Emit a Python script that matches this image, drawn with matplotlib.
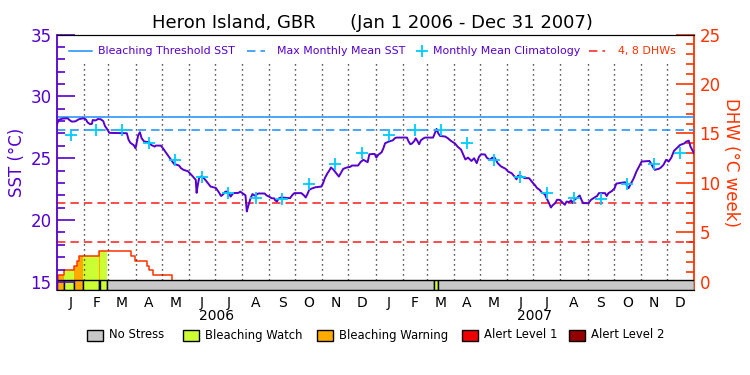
import numpy as np
import pandas as pd
import matplotlib
matplotlib.use('Agg')
from matplotlib import pyplot as plt
from matplotlib import patches

plt.rcParams['font.family'] = ['DejaVu Sans']

# ---- data (day 0 = 1 Jan 2006) ----
sst_day = [0, 2, 6, 12, 15, 17, 21, 25, 30, 33, 35, 38, 40, 41, 44, 47, 50, 53, 55, 57,
           60, 80, 82, 84, 88, 90, 93, 95, 97, 100, 106, 108, 112, 113, 119, 122, 124, 128,
           131, 134, 140, 142, 145, 150, 152, 156, 159, 160, 161, 163, 166, 170, 173, 176,
           182, 185, 188, 190, 193, 196, 199, 202, 208, 210, 213, 216, 217.5, 219, 221, 222,
           224, 226, 228, 229, 231, 238, 240, 243, 246, 249, 250, 252, 254, 257, 267, 270,
           272, 280, 283, 285, 287, 289, 292, 296, 303, 305, 307, 310, 312, 314, 317, 320,
           323, 326, 328, 332, 336, 338, 345, 348, 351, 353, 356, 358, 364,
           366, 368, 372, 374, 376, 380, 385, 387, 389, 401, 403, 405, 407, 409.5, 411, 413,
           415, 417, 420, 422, 431, 433, 435, 437, 439, 445, 448, 451.5, 456, 459, 463,
           465.5, 468, 471, 475, 478, 481, 483.5, 486, 490.5, 492.5, 496, 499, 502, 505,
           509, 514, 517, 521, 524, 526.5, 528.5, 532.5, 536, 541, 544, 548,
           550, 553, 556, 559, 561, 563, 566, 568, 571, 573, 576, 578, 580, 582, 584, 587,
           589, 591, 593, 596, 599, 601, 603, 609, 612, 616, 619, 621, 628, 630, 632, 636,
           639, 641, 651, 653, 655, 658, 661, 664, 667, 670, 679, 682, 685, 690, 692, 695,
           698, 701, 704, 707, 711, 714, 719, 721, 724, 726, 730]
sst_val = [27.75, 28.1, 28.2, 28.23, 28.05, 27.96, 27.98, 28.15, 28.23, 28.15, 27.9, 27.75,
           27.78, 28.09, 28.05, 28.17, 28.15, 28.0, 27.6, 27.4, 27.05, 27.02, 26.5, 26.25,
           26.05, 25.8, 26.85, 27.1, 26.61, 26.34, 26.3, 26.07, 25.94, 26.02, 26.02, 25.75,
           25.54, 25.15, 24.85, 24.55, 24.4, 24.2, 24.06, 23.95, 23.8, 23.5, 23.25, 22.2,
           22.7, 23.45, 23.55, 23.25, 22.98, 22.71, 22.6, 22.3, 21.95, 22.05, 22.3, 22.3,
           21.9, 22.18, 22.2, 22.3, 22.15, 22.0, 20.7, 21.1, 21.55, 21.8, 22.1, 22.0, 21.95,
           22.1, 22.15, 22.15, 22.0, 21.9, 21.77, 21.75, 21.6, 21.5, 21.75, 21.83, 21.77,
           22.05, 22.18, 22.18, 22.0, 21.83, 22.1, 22.45, 22.55, 22.65, 22.71, 23.0, 23.4,
           23.79, 24.0, 24.25, 24.06, 23.79, 23.52, 23.9, 24.14, 24.25, 24.3, 24.41, 24.41,
           24.7, 24.87, 24.8, 24.68, 25.32, 25.35,
           25.05, 25.27, 25.48, 25.8, 26.21, 26.34, 26.45, 26.61, 26.67, 26.67, 26.34, 26.13,
           26.2, 26.4, 26.61, 26.4, 26.13, 26.45, 26.61, 26.67, 26.67, 27.02, 27.37, 27.0,
           26.8, 26.75, 26.61, 26.4, 26.2, 25.94, 25.7, 25.3, 24.9, 25.05, 24.78, 25.0,
           24.6, 25.1, 25.32, 25.3, 25.05, 24.87, 25.05, 25.0, 24.6, 24.33, 24.15, 23.92,
           23.79, 23.55, 23.3, 23.6, 23.52, 23.39, 23.39, 23.12, 22.8,
           22.6, 22.45, 22.2, 22.1, 21.77, 21.5, 21.02, 21.2, 21.37, 21.64, 21.64, 21.5,
           21.37, 21.24, 21.5, 21.45, 21.6, 21.4, 21.64, 21.8, 21.99, 21.64, 21.37, 21.37,
           21.64, 21.83, 21.95, 22.18, 22.18, 21.95, 22.18, 22.35, 22.58, 22.95, 23.06, 22.8,
           22.58, 22.98, 23.39, 23.92, 24.33, 24.73, 24.78, 24.41, 24.06, 24.15, 24.25,
           24.46, 24.87, 24.73, 25.05, 25.59, 25.86, 26.07, 26.2, 26.34, 26.42, 25.94, 25.4]

clim_val = [26.9, 27.3, 27.3, 26.25, 24.85, 23.5, 22.15, 21.75, 21.7, 22.95, 24.5, 25.45]
bleach_threshold = 28.3
mmm = 27.3
dhw_levels = [4, 8]

dhw_day = [0, 1.5, 8, 19.5, 23.3, 25.6, 48, 84.4, 89.4, 103.1, 105.4, 110.4, 132.2, 730]
dhw_val = [0, 0.7, 1.2, 1.65, 2.1, 2.6, 3.1, 2.6, 2.1, 1.65, 1.2, 0.7, 0, 0]

stress_start = [0, 8, 19.5, 30, 48, 49.3, 57.7, 432.4, 436.3]
stress_end = [8, 19.5, 30, 48, 49.3, 57.7, 432.4, 436.3, 730]
stress_level = [2, 1, 2, 1, 2, 1, 0, 1, 0]

stress_names = ['No Stress', 'Bleaching Watch', 'Bleaching Warning', 'Alert Level 1', 'Alert Level 2']
stress_colors = ['#c8c8c8', '#ccff33', '#ffaa00', '#ee0000', '#960000']
month_letters = ['J', 'F', 'M', 'A', 'M', 'J', 'J', 'A', 'S', 'O', 'N', 'D']
years = ['2006', '2007']

purple = '#5500cc'
orange = '#ff3300'
blue = '#1a8cff'
cyan = '#00ccff'

# calendar positions
t0 = pd.Timestamp('2006-01-01')
month_start = pd.date_range('2006-01-01', periods=25, freq='MS')
ms_day = np.array([(d - t0).days for d in month_start])
mid_day = (ms_day[:-1] + ms_day[1:]) / 2.0

fig = plt.figure(figsize=(7.5, 3.75), dpi=100)
ax = fig.add_axes([57 / 750, 85 / 375, 637 / 750, 255.5 / 375])
ax2 = ax.twinx()
ax.set_zorder(ax2.get_zorder() + 1)
ax.patch.set_visible(False)

ax.set_xlim(0, 730)
ax.set_ylim(14.35, 35)
ax2.set_ylim(-0.81, 25)

# month grid
ax.vlines(ms_day[1:-1], 15.15, 32.7, colors='black', linestyles=(0, (0.8, 2.8)), lw=1)

# DHW fill by stress and curve
dhw_day_a = np.array(dhw_day)
dhw_val_a = np.array(dhw_val)
def dhw_at(t):
    idx = np.searchsorted(dhw_day_a, t, side='right') - 1
    return dhw_val_a[np.clip(idx, 0, len(dhw_val_a) - 1)]

for s, e, lev in zip(stress_start, stress_end, stress_level):
    if lev == 0:
        continue
    xs = np.unique(np.concatenate([[s], dhw_day_a[(dhw_day_a > s) & (dhw_day_a < e)], [e]]))
    ax2.fill_between(xs, 0, dhw_at(xs), step='post', color=stress_colors[lev], lw=0)
ax2.plot(dhw_day, dhw_val, drawstyle='steps-post', color=orange, lw=1.1)

for lev in dhw_levels:
    ax2.axhline(lev, color='#ff1a1a', lw=1.1, ls=(0, (5.5, 3.3)))

# stress bar
for s, e, lev in zip(stress_start, stress_end, stress_level):
    ax2.bar(s, 0.98, bottom=-0.81, width=e - s, align='edge',
            color=stress_colors[lev], edgecolor='black', lw=1, zorder=3)

# SST thresholds, climatology and data
ax.axhline(bleach_threshold, color=blue, lw=1.1)
ax.axhline(mmm, color=blue, lw=1.1, ls=(0, (5.5, 3.3)))
ax.plot(sst_day, sst_val, color=purple, lw=1.4, zorder=4)
ax.plot(mid_day, clim_val * 2, ls='none', marker='+', ms=9, mew=1.3, color=cyan, zorder=5)

# axes styling
ax.spines['left'].set_color(purple)
ax.spines['left'].set_linewidth(1.3)
ax.spines['right'].set_visible(False)
ax2.spines['left'].set_visible(False)
ax2.spines['right'].set_color(orange)
ax2.spines['right'].set_linewidth(1.3)

ax.set_yticks([15, 20, 25, 30, 35])
ax.set_yticks(np.arange(15, 35), minor=True)
ax.tick_params(axis='y', which='major', direction='in', length=13, width=1.2,
               color=purple, labelcolor=purple, labelsize=12, pad=4)
ax.tick_params(axis='y', which='minor', direction='in', length=6, width=1.2, color=purple)
ax2.set_yticks([0, 5, 10, 15, 20, 25])
ax2.set_yticks(np.arange(0, 25), minor=True)
ax2.tick_params(axis='y', which='major', direction='in', length=13, width=1.2,
                color=orange, labelcolor=orange, labelsize=12, pad=4)
ax2.tick_params(axis='y', which='minor', direction='in', length=6, width=1.2, color=orange)

ax.set_xticks(mid_day)
ax.set_xticklabels(month_letters * 2)
ax.tick_params(axis='x', length=0, labelsize=10, pad=4)
for i, yr in enumerate(years):
    ax.text(182.5 + 365 * i, -0.1, yr, transform=ax.get_xaxis_transform(),
            ha='center', va='center', fontsize=10)

fig.text(17 / 750, 1 - 162 / 375, 'SST (°C)', rotation=90, color=purple,
         ha='center', va='center', fontsize=12)
fig.text(731 / 750, 1 - 162 / 375, 'DHW (°C week)', rotation=270, color=orange,
         ha='center', va='center', fontsize=12)
fig.text(0.497, 0.939, 'Heron Island, GBR      (Jan 1 2006 - Dec 31 2007)',
         ha='center', va='center', fontsize=13)

# top legend
yl = (290 - 51) / 255.5
tr = ax.transAxes
lfs = 7.9
ax.plot([0.0188, 0.055], [yl, yl], color=blue, lw=1.1, transform=tr)
ax.text(0.0644, yl, 'Bleaching Threshold SST', color=purple, fontsize=lfs,
        va='center', transform=tr)
ax.plot([0.2983, 0.3265], [yl, yl], color=blue, lw=1.1, ls=(0, (5.5, 3.3)), transform=tr)
ax.text(0.3454, yl, 'Max Monthly Mean SST', color=purple, fontsize=lfs,
        va='center', transform=tr)
ax.plot([0.5725], [yl], marker='+', ms=9, mew=1.3, color=cyan, transform=tr)
ax.text(0.5903, yl, 'Monthly Mean Climatology', color=purple, fontsize=lfs,
        va='center', transform=tr)
ax.plot([0.8352, 0.8603], [yl, yl], color='#ff1a1a', lw=1.1, ls=(0, (5.5, 3.3)), transform=tr)
ax.text(0.8807, yl, '4, 8 DHWs', color=orange, fontsize=lfs, va='center', transform=tr)

# bottom stress legend
box_x = [87, 183, 317, 462, 569]
for bx, name, col in zip(box_x, stress_names, stress_colors):
    fig.patches.append(patches.Rectangle((bx / 750, 1 - 341 / 375), 16 / 750, 11 / 375,
                                         facecolor=col, edgecolor='black', lw=1,
                                         transform=fig.transFigure))
    fig.text((bx + 22) / 750, 1 - 335 / 375, name, fontsize=8.4, va='center')

fig.savefig('out.png', dpi=100)
